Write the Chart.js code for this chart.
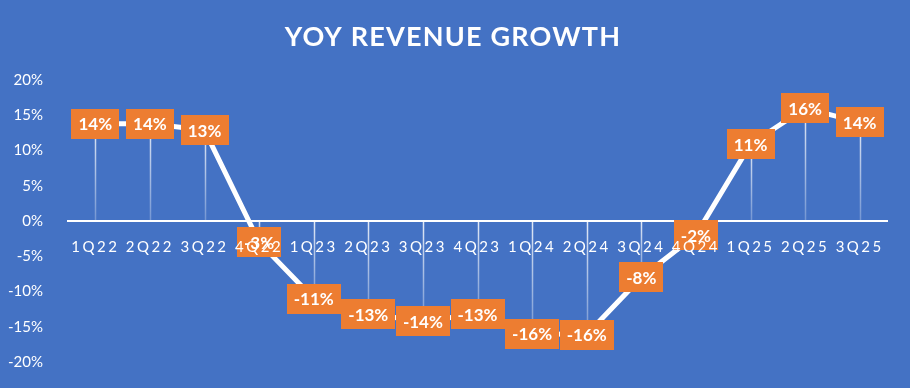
<!DOCTYPE html>
<html>
<head>
<meta charset="utf-8">
<script src="https://cdn.jsdelivr.net/npm/chart.js@4.4.1/dist/chart.umd.min.js"></script>
<style>
  html, body { margin: 0; padding: 0; background: #4472C4; }
  #wrap { width: 910px; height: 388px; }
</style>
</head>
<body>
<div id="wrap"><canvas id="lineChart" width="910" height="388"></canvas></div>
<script>
const quarters = ["1Q22", "2Q22", "3Q22", "4Q22", "1Q23", "2Q23", "3Q23", "4Q23", "1Q24", "2Q24", "3Q24", "4Q24", "1Q25", "2Q25", "3Q25"];
const growth = [13.8, 13.8, 12.9, -3.0, -11.0, -13.2, -14.2, -13.2, -16.0, -16.1, -8.0, -2.0, 10.9, 16.0, 14.0];
const yTicks = [-20, -15, -10, -5, 0, 5, 10, 15, 20];
const chartTitle = "YOY REVENUE GROWTH";

const BG = "#4472C4";
const ORANGE = "#ED7D31";
const FONT = "Lato, 'Open Sans', sans-serif";

// background, title, drop lines, orange value boxes
const decor = {
    id: "decor",
    beforeDraw(chart) {
        const ctx = chart.ctx;
        ctx.save();
        ctx.fillStyle = BG;
        ctx.fillRect(0, 0, chart.width, chart.height);
        ctx.fillStyle = "#fff";
        ctx.font = "bold 27px " + FONT;
        ctx.letterSpacing = "1.2px";
        ctx.textAlign = "center";
        ctx.textBaseline = "middle";
        ctx.fillText(chartTitle, 453, 37);
        ctx.restore();
    },
    beforeDatasetsDraw(chart) {
        const ctx = chart.ctx;
        const y0 = chart.scales.y.getPixelForValue(0);
        const meta = chart.getDatasetMeta(0);
        ctx.save();
        ctx.lineWidth = 1.5;
        meta.data.forEach(pt => {
            const top = Math.min(pt.y, y0), bot = Math.max(pt.y, y0);
            const g = ctx.createLinearGradient(0, top, 0, bot);
            g.addColorStop(0, "rgba(255,255,255,0.85)");
            g.addColorStop(1, "rgba(255,255,255,0.25)");
            ctx.strokeStyle = g;
            ctx.beginPath();
            ctx.moveTo(Math.round(pt.x) + 0.5, top);
            ctx.lineTo(Math.round(pt.x) + 0.5, bot);
            ctx.stroke();
        });
        ctx.restore();
    },
    afterDatasetsDraw(chart) {
        const ctx = chart.ctx;
        const meta = chart.getDatasetMeta(0);
        ctx.save();
        ctx.font = "bold 17px " + FONT;
        ctx.textAlign = "center";
        ctx.textBaseline = "middle";
        meta.data.forEach((pt, i) => {
            const txt = Math.round(growth[i]) + "%";
            const w = ctx.measureText(txt).width + 14;
            const h = 30;
            ctx.fillStyle = ORANGE;
            ctx.fillRect(Math.round(pt.x - w / 2), Math.round(pt.y - h / 2), Math.round(w), h);
            ctx.fillStyle = "#fff";
            ctx.fillText(txt, pt.x, pt.y + 1);
        });
        ctx.restore();
    },
    afterLayout(chart) {
        const xs = chart.scales.x;
        if (!xs._spaced) {
            const orig = xs.drawLabels;
            xs.drawLabels = function (area) {
                this.ctx.save();
                this.ctx.letterSpacing = "2.5px";
                orig.call(this, area);
                this.ctx.restore();
            };
            xs._spaced = true;
        }
    }
};

const CHART = document.getElementById("lineChart");

let lineChart = new Chart(CHART, {
    type: "line",
    data: {
        labels: quarters,
        datasets: [{
            label: "YoY Revenue Growth",
            data: growth,
            borderColor: "#fff",
            borderWidth: 5,
            fill: false,
            tension: 0,
            pointRadius: 0,
            pointHoverRadius: 0
        }]
    },
    options: {
        responsive: false,
        animation: false,
        layout: { padding: { top: 80, right: 23, bottom: 22, left: 0 } },
        plugins: {
            legend: { display: false },
            title: { display: false },
            tooltip: { enabled: false }
        },
        scales: {
            x: {
                position: { y: 0 },
                offset: true,
                grid: { display: false },
                border: { display: true, color: "#fff", width: 2 },
                ticks: { z: 1, color: "#fff", font: { family: FONT, size: 15 }, padding: 9, maxRotation: 0, autoSkip: false }
            },
            y: {
                min: -20,
                max: 20,
                grid: { display: false },
                border: { display: false },
                afterBuildTicks(axis) { axis.ticks = yTicks.map(v => ({ value: v })); },
                afterFit(axis) { axis.width = 68; },
                ticks: {
                    color: "#fff",
                    font: { family: FONT, size: 15 },
                    padding: 17,
                    callback: v => v + "%"
                }
            }
        }
    },
    plugins: [decor]
});
</script>
</body>
</html>
